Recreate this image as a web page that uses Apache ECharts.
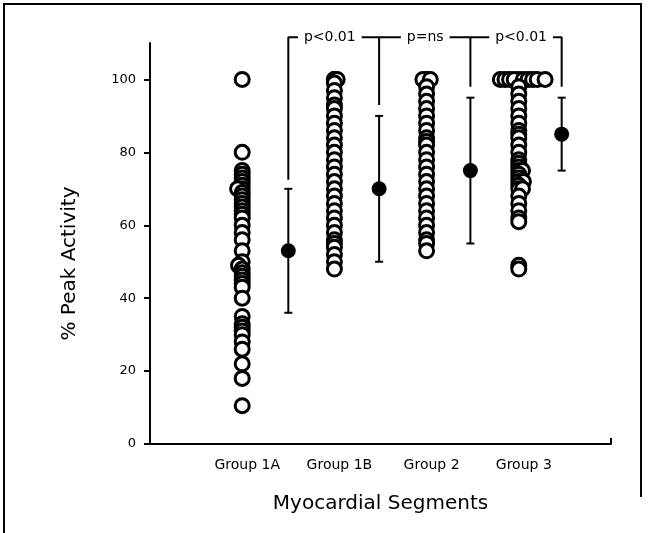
<!DOCTYPE html>
<html>
<head>
<meta charset="utf-8">
<script src="https://cdn.jsdelivr.net/npm/echarts@6/dist/echarts.min.js"></script>
<style>
  html, body { margin: 0; padding: 0; background: #fff; }
  #chart { width: 648px; height: 533px; }
</style>
</head>
<body>
<div id="chart"></div>
<script>
  // groups on a 0..10 value axis: points at even x, mean +/- range one unit right
  var groupNames = ['Group 1A', 'Group 1B', 'Group 2', 'Group 3']
  var groupX = [2, 4, 6, 8]
  var meanX = [3, 4.97, 6.95, 8.93]
  var means = [53, 70, 75, 85]
  var lows = [36, 50, 55, 75]
  var highs = [70, 90, 95, 95]

  var g1a = [100, 80, 75, 74, 73, 72, 71, 70, 69, 68, 67, 66, 65, 64, 63, 62, 60, 58, 56, 53, 50, 48, 47, 46, 45, 44, 43, 40, 35, 33, 32, 31, 30, 28, 26, 22, 18, 10.5]
  var g1b = [100, 100, 99, 97, 95, 93, 92, 90, 88, 86, 84, 82, 80, 78, 76, 74, 72, 70, 68, 66, 64, 62, 60, 58, 56, 55, 54, 52, 50, 48]
  var g2 = [100, 98, 96, 94, 92, 90, 88, 86, 84, 83, 82, 80, 78, 76, 74, 72, 70, 68, 66, 64, 62, 60, 58, 56, 55, 53]
  var g3 = [100, 98, 96, 94, 92, 90, 88, 86, 85, 84, 82, 80, 78, 77, 76, 75, 74, 73, 72, 71, 70, 68, 66, 64, 62, 61, 49, 48]
  // points sitting off the column centre
  var offPoints = [[1.9, 70], [1.92, 49], [4.06, 100], [5.92, 100], [6.08, 100],
    [7.6, 100], [7.7, 100], [7.8, 100], [7.9, 100], [8.1, 100], [8.2, 100], [8.3, 100], [8.4, 100], [8.57, 100],
    [8.08, 75], [8.1, 72], [8.08, 70]]

  // significance brackets
  var bracketTop = 111.6
  var bracketEnds = [72.5, 93, 98, 98]
  var pLabels = ['p<0.01', 'p=ns', 'p<0.01']
  var pLabelX = [3.9, 5.97, 8.05]

  var font = 'DejaVu Sans'

  var points = []
  ;[g1a, g1b, g2, g3].forEach(function (vals, i) {
    vals.forEach(function (v) { points.push([groupX[i], v]) })
  })
  offPoints.forEach(function (p) { points.push(p) })
  points.sort(function (a, b) { return b[1] - a[1] })

  var bracket = [[meanX[0], bracketEnds[0]], [meanX[0], bracketTop], [meanX[3], bracketTop], [meanX[3], bracketEnds[3]], '-',
    [meanX[1], bracketTop], [meanX[1], bracketEnds[1]], '-',
    [meanX[2], bracketTop], [meanX[2], bracketEnds[2]]]

  var chart = echarts.init(document.getElementById('chart'), null, { renderer: 'canvas' })
  chart.setOption({
    animation: false,
    backgroundColor: '#fff',
    grid: { left: 150, right: 37, top: 43, bottom: 89 },
    xAxis: {
      type: 'value', min: 0, max: 10,
      name: 'Myocardial Segments', nameLocation: 'middle', nameGap: 50,
      nameTextStyle: { fontFamily: font, fontSize: 20, color: '#000' },
      axisLine: { lineStyle: { color: '#000', width: 2 } },
      axisTick: { show: true, inside: true, length: 6, customValues: [10], lineStyle: { color: '#000', width: 2 } },
      axisLabel: {
        customValues: groupX, margin: 14, padding: [0, 0, 0, 10],
        fontFamily: font, fontSize: 14, color: '#000',
        formatter: function (v) { return groupNames[groupX.indexOf(v)] || '' }
      },
      splitLine: { show: false }
    },
    yAxis: {
      type: 'value', min: 0, max: 110,
      name: '% Peak Activity', nameLocation: 'middle', nameGap: 70,
      nameTextStyle: { fontFamily: font, fontSize: 20, color: '#000', padding: [0, 40, 0, 0] },
      axisLine: { lineStyle: { color: '#000', width: 2 } },
      axisTick: { show: true, length: 6, customValues: [0, 20, 40, 60, 80, 100], lineStyle: { color: '#000', width: 2 } },
      axisLabel: { customValues: [0, 20, 40, 60, 80, 100], margin: 14, fontFamily: font, fontSize: 13, color: '#000' },
      splitLine: { show: false }
    },
    graphic: [{
      type: 'polyline', silent: true,
      shape: { points: [[4, 533], [4, 4], [641, 4], [641, 497]] },
      style: { stroke: '#000', lineWidth: 2, fill: null }
    }],
    series: [
      {
        type: 'scatter', data: points, symbol: 'circle', symbolSize: 14,
        itemStyle: { color: '#fff', borderColor: '#000', borderWidth: 3, opacity: 1 }
      },
      {
        type: 'custom',
        data: meanX.map(function (x, i) { return [x, lows[i], highs[i]] }),
        renderItem: function (params, api) {
          var lo = api.coord([api.value(0), api.value(1)])
          var hi = api.coord([api.value(0), api.value(2)])
          var w = 4
          return {
            type: 'group',
            children: [
              { type: 'line', shape: { x1: lo[0], y1: lo[1], x2: hi[0], y2: hi[1] }, style: { stroke: '#000', lineWidth: 2 } },
              { type: 'line', shape: { x1: lo[0] - w, y1: lo[1], x2: lo[0] + w, y2: lo[1] }, style: { stroke: '#000', lineWidth: 2 } },
              { type: 'line', shape: { x1: hi[0] - w, y1: hi[1], x2: hi[0] + w, y2: hi[1] }, style: { stroke: '#000', lineWidth: 2 } }
            ]
          }
        }
      },
      {
        type: 'scatter', data: meanX.map(function (x, i) { return [x, means[i]] }),
        symbol: 'circle', symbolSize: 15, itemStyle: { color: '#000', opacity: 1 }, z: 5
      },
      {
        type: 'line', data: bracket, symbol: 'none', clip: false, connectNulls: false,
        lineStyle: { color: '#000', width: 2 }
      },
      {
        type: 'scatter', clip: false, symbolSize: 0, z: 6,
        itemStyle: { opacity: 1 },
        data: pLabelX.map(function (x, i) { return { value: [x, bracketTop], name: pLabels[i] } }),
        label: {
          show: true, position: 'inside', formatter: '{b}',
          fontFamily: font, fontSize: 14, color: '#000',
          backgroundColor: '#fff', padding: [2, 6]
        }
      }
    ]
  })
</script>
</body>
</html>
